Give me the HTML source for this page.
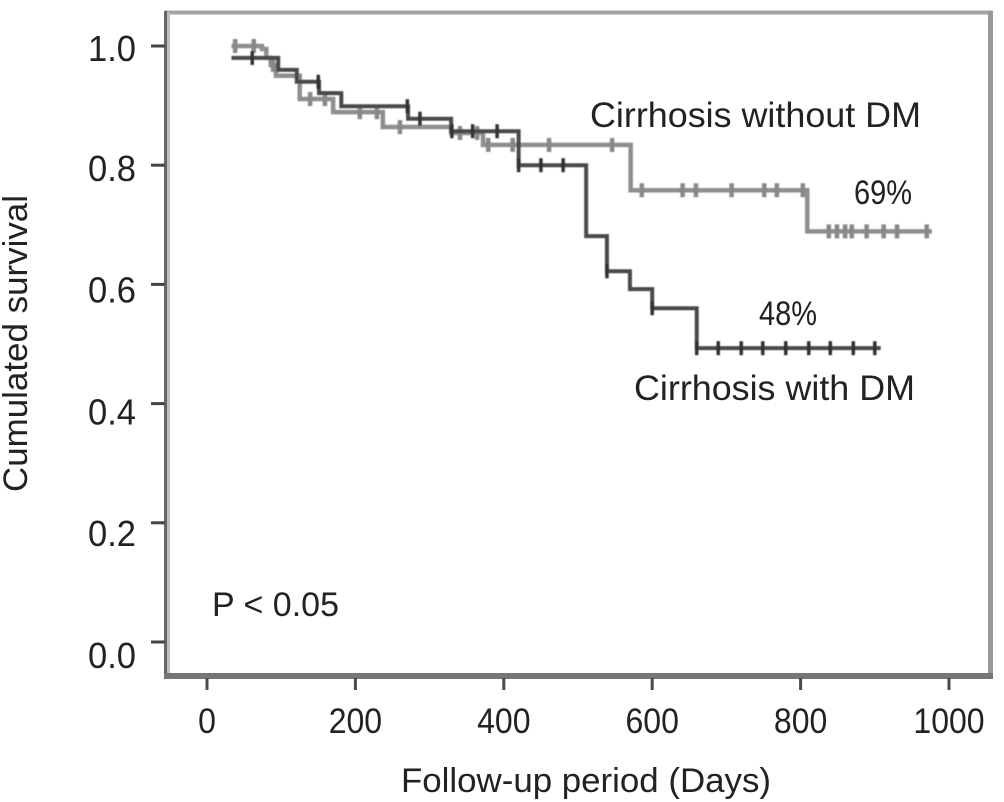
<!DOCTYPE html>
<html>
<head>
<meta charset="utf-8">
<title>Cumulated survival</title>
<style>
html,body{margin:0;padding:0;background:#fff;width:1004px;height:802px;overflow:hidden}
svg{display:block}
text{font-family:"Liberation Sans",sans-serif;fill:#222}
</style>
</head>
<body>
<svg id="chart" width="1004" height="802" viewBox="0 0 1004 802" xmlns="http://www.w3.org/2000/svg">
  <defs><filter id="soft" x="-5%" y="-5%" width="110%" height="110%"><feGaussianBlur stdDeviation="0.6"/></filter></defs>
  <g fill="none">
    <line x1="165" y1="12.5" x2="992" y2="12.5" stroke="#a3a3a3" stroke-width="4"/>
    <line x1="168.5" y1="12" x2="168.5" y2="675" stroke="#bdbdbd" stroke-width="3"/>
    <line x1="165.5" y1="11" x2="165.5" y2="678" stroke="#666" stroke-width="3"/>
    <line x1="990.5" y1="11" x2="990.5" y2="678" stroke="#999" stroke-width="5"/>
    <line x1="164" y1="676" x2="993" y2="676" stroke="#77757a" stroke-width="6"/>
  </g>
  <g id="ticks"></g>
  <g id="tick-labels"></g>
  <g id="series" filter="url(#soft)"></g>
  <text transform="translate(27,492) rotate(-90)" font-size="34" textLength="297" lengthAdjust="spacingAndGlyphs">Cumulated survival</text>
  <text x="401" y="792" font-size="34" textLength="370" lengthAdjust="spacingAndGlyphs">Follow-up period (Days)</text>
  <text x="212" y="616" font-size="34" textLength="127" lengthAdjust="spacingAndGlyphs">P &lt; 0.05</text>
  <text x="590" y="127" font-size="35" textLength="331" lengthAdjust="spacingAndGlyphs">Cirrhosis without DM</text>
  <text x="634" y="400" font-size="35" textLength="281" lengthAdjust="spacingAndGlyphs">Cirrhosis with DM</text>
  <text x="854" y="204" font-size="34" textLength="58" lengthAdjust="spacingAndGlyphs">69%</text>
  <text x="759" y="325" font-size="34" textLength="58" lengthAdjust="spacingAndGlyphs">48%</text>
</svg>
<script>
const xTicks = [0, 200, 400, 600, 800, 1000];
const xTickLabels = ["0", "200", "400", "600", "800", "1000"];
const yTicks = [1.0, 0.8, 0.6, 0.4, 0.2, 0.0];
const yTickLabels = ["1.0", "0.8", "0.6", "0.4", "0.2", "0.0"];

const withoutDmTimes = [33, 74, 80, 86, 93, 125, 170, 237, 329, 372, 571, 809];
const withoutDmSurvival = [1.0, 0.995, 0.98, 0.968, 0.95, 0.911, 0.889, 0.864, 0.854, 0.834, 0.758, 0.689];
const withoutDmEnd = 977;
const withoutDmCensored = [38, 63, 89, 139, 159, 206, 229, 260, 341, 364, 379, 412, 461, 546, 586, 641, 659, 707, 751, 768, 803, 838, 849, 860, 869, 889, 912, 930, 970];

const withDmTimes = [33, 96, 121, 151, 181, 271, 329, 420, 511, 539, 570, 600, 660];
const withDmSurvival = [0.98, 0.96, 0.94, 0.921, 0.899, 0.878, 0.857, 0.8, 0.681, 0.622, 0.592, 0.56, 0.493];
const withDmEnd = 908;
const withDmCensored = [61, 150, 270, 287, 330, 358, 391, 420, 450, 480, 539, 600, 660, 689, 720, 749, 780, 811, 840, 871, 900];

const NS = 'http://www.w3.org/2000/svg';
function xScale(d) { return 207 + d * 0.742; }
function yScale(s) { return 642 - s * 596; }
function make(tag, attrs, parent) {
  const el = document.createElementNS(NS, tag);
  for (const k in attrs) el.setAttribute(k, attrs[k]);
  parent.appendChild(el);
  return el;
}
function stepPath(times, surv, end) {
  let d = 'M' + xScale(times[0]) + ' ' + yScale(surv[0]);
  for (let i = 1; i < times.length; i++) {
    d += ' H' + xScale(times[i]) + ' V' + yScale(surv[i]);
  }
  return d + ' H' + xScale(end);
}
function survivalAt(times, surv, t) {
  let v = surv[0];
  for (let i = 0; i < times.length; i++) { if (times[i] <= t) v = surv[i]; }
  return v;
}
const tickGroup = document.getElementById('ticks');
const labelGroup = document.getElementById('tick-labels');
xTicks.forEach(function (v, i) {
  const t = make('line', {x1: xScale(v), x2: xScale(v), y1: 678, y2: 690, stroke: '#4a4a4a', 'stroke-width': 3}, tickGroup);
  
  
  const l = make('text', {x: xScale(v), y: 733, 'font-size': 35, 'text-anchor': 'middle', textLength: xTickLabels[i].length * 17.8, lengthAdjust: 'spacingAndGlyphs'}, labelGroup);
  
  
  l.textContent = xTickLabels[i];
});
const yLabelBaselineOffset = [15, 16, 18, 21, 23, 26];
yTicks.forEach(function (v, i) {
  const t = make('line', {x1: 151, x2: 165, y1: yScale(v), y2: yScale(v), stroke: '#444', 'stroke-width': 3}, tickGroup);
  
  
  const l = make('text', {x: 136, y: yScale(v) + yLabelBaselineOffset[i], 'font-size': 36, 'text-anchor': 'end', textLength: 48, lengthAdjust: 'spacingAndGlyphs'}, labelGroup);
  
  
  l.textContent = yTickLabels[i];
});
const seriesGroup = document.getElementById('series');
function drawSeries(times, surv, end, censored, color, width, tickColor, tickWidth) {
  const p = make('path', {d: stepPath(times, surv, end), fill: 'none', stroke: color, 'stroke-width': width}, seriesGroup);
  
  
  censored.forEach(function (t) {
    const y = yScale(survivalAt(times, surv, t));
    const m = make('line', {x1: xScale(t), x2: xScale(t), y1: y - 7, y2: y + 7, stroke: tickColor, 'stroke-width': tickWidth}, seriesGroup);
    
    
  });
}
drawSeries(withoutDmTimes, withoutDmSurvival, withoutDmEnd, withoutDmCensored, '#8e8e90', 4.5, '#88888a', 4.5);
drawSeries(withDmTimes, withDmSurvival, withDmEnd, withDmCensored, '#4a4a4a', 4, '#333', 3.5);
</script>
</body>
</html>
